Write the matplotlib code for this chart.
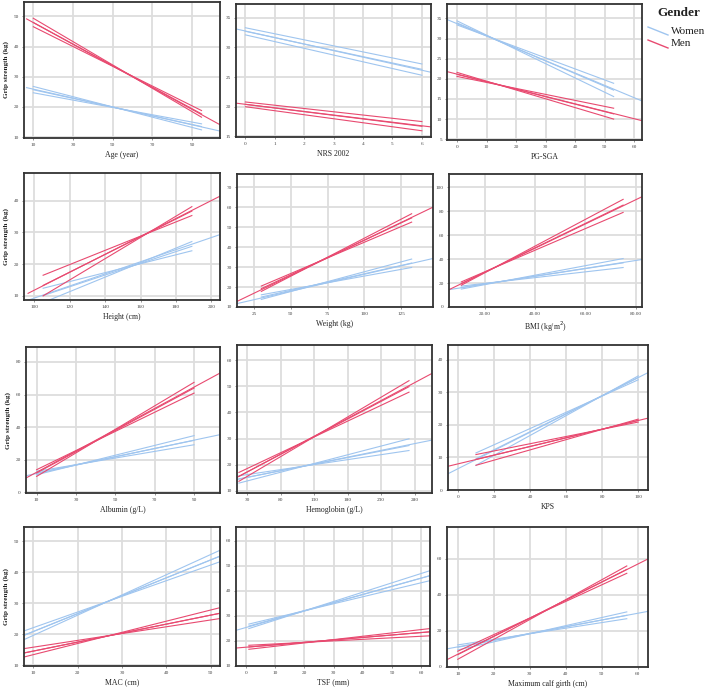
import matplotlib
matplotlib.use('Agg')
import matplotlib.pyplot as plt
from matplotlib.lines import Line2D

plt.rcParams['font.family'] = ['Liberation Serif', 'DejaVu Serif']

# ---- data ----
xlabels = ['Age (year)', 'NRS 2002', 'PG-SGA',
           'Height (cm)', 'Weight (kg)', 'BMI (kg/m$^2$)',
           'Albumin (g/L)', 'Hemoglobin (g/L)', 'KPS',
           'MAC (cm)', 'TSF (mm)', 'Maximum calf girth (cm)']

xlims = [(5.3, 104), (-0.32, 6.31), (-3.4, 62.6),
         (94.2, 204.9), (13.5, 146.5), (5.8, 82.5),
         (4.6, 103.2), (15.1, 305.8), (-5.5, 105.4),
         (7.9, 52.1), (-3.4, 63.0), (7.0, 62.9)]
ylims = [(9.7, 54.8), (14.9, 37.3), (4.8, 38.6),
         (8.7, 48.7), (10, 76.6), (0, 111.2),
         (-0.4, 89.2), (9.1, 65.9), (0, 44.6),
         (9.8, 54.6), (9.9, 65.6), (-0.2, 77.8)]

xticks = [[10, 30, 50, 70, 90], [0, 1, 2, 3, 4, 5, 6], [0, 10, 20, 30, 40, 50, 60],
          [100, 120, 140, 160, 180, 200], [25, 50, 75, 100, 125], [20, 40, 60, 80],
          [10, 30, 50, 70, 90], [30, 80, 130, 180, 230, 280], [0, 20, 40, 60, 80, 100],
          [10, 20, 30, 40, 50], [0, 10, 20, 30, 40, 50, 60], [10, 20, 30, 40, 50, 60]]
yticks = [[10, 20, 30, 40, 50], [15, 20, 25, 30, 35], [5, 10, 15, 20, 25, 30, 35],
          [10, 20, 30, 40], [10, 20, 30, 40, 50, 60, 70], [0, 20, 40, 60, 80, 100],
          [0, 20, 40, 60, 80], [10, 20, 30, 40, 50, 60], [0, 10, 20, 30, 40],
          [10, 20, 30, 40, 50], [10, 20, 30, 40, 50, 60], [0, 20, 40, 60]]

# fit lines over the whole axis: (x0, y0, x1, y1)
women_fit = [(6.6, 26.4, 104, 12.0), (-0.32, 33.1, 6.31, 25.8), (-3.4, 34.75, 62.6, 14.5),
             (94.2, 8.2, 204.9, 29.3), (13.5, 11.7, 146.5, 34.3), (5.8, 14.5, 82.5, 39.7),
             (4.6, 10.2, 103.2, 35.4), (15.1, 14.3, 305.8, 29.4), (-5.5, 5.0, 105.4, 36.1),
             (7.9, 19.7, 52.1, 45.2), (-3.4, 24.2, 63.0, 46.1), (7.0, 9.9, 62.9, 30.8)]
men_fit = [(6.6, 49.2, 104, 14.1), (-0.32, 20.6, 6.31, 16.6), (-3.4, 21.8, 62.6, 9.6),
           (96.5, 10.8, 204.9, 41.4), (13.5, 12.8, 146.5, 60.0), (5.8, 14.5, 82.5, 92.2),
           (4.6, 8.8, 103.2, 73.2), (15.1, 15.1, 305.8, 55.0), (-5.5, 7.3, 105.4, 22.1),
           (7.9, 14.0, 52.1, 26.8), (-3.4, 17.1, 63.0, 23.6), (7.0, 3.9, 62.9, 60.0)]

# interval lines over the observed range
ci_x = [(10, 94.7), (0, 6), (0, 53),
        (105, 189), (30, 132), (10.7, 75),
        (10, 90), (18, 271.5), (10, 100),
        (7.9, 52.1), (1, 63.0), (10, 57)]
women_start = [[26.8, 25.7, 24.7], [33.3, 32.7, 32.1], [34.4, 33.9, 33.4],
               [12.4, 10.1, 7.9], [16.1, 15.0, 13.8], [17.5, 16.3, 15.0],
               [12.9, 11.9, 10.8], [15.7, 14.5, 12.9], [11.4, 9.6, 7.6],
               [21.1, 19.7, 18.3], [26.7, 25.9, 24.9], [12.1, 10.8, 9.3]]
women_end = [[12.4, 13.5, 14.4], [27.2, 26.3, 25.3], [15.6, 17.2, 18.9],
             [24.2, 25.6, 27.1], [29.8, 32.0, 34.0], [33.0, 36.9, 40.5],
             [29.2, 31.9, 34.8], [25.4, 27.3, 29.9], [33.9, 34.6, 35.1],
             [43.4, 45.2, 47.1], [44.1, 46.1, 48.1], [26.7, 28.6, 30.5]]
men_start = [[49.4, 48.0, 46.6], [20.8, 20.4, 20.0], [21.6, 21.1, 20.6],
             [16.5, 13.3, 10.0], [20.5, 19.2, 17.8], [21.0, 19.6, 18.2],
             [13.9, 11.9, 9.8], [17.0, 15.5, 13.6], [10.9, 9.4, 7.6],
             [15.4, 14.0, 12.7], [18.2, 17.5, 16.6], [8.6, 6.7, 4.1]]
men_end = [[16.6, 17.7, 18.8], [17.5, 16.7, 15.95], [10.0, 11.3, 12.7],
           [35.3, 36.7, 38.1], [52.5, 54.6, 56.7], [79.1, 85.2, 90.0],
           [60.9, 64.0, 67.5], [47.8, 49.9, 52.2], [20.9, 21.4, 21.8],
           [25.1, 26.8, 28.6], [22.0, 23.6, 24.9], [52.0, 54.2, 56.1]]

# panel boxes in pixels: left, top, right, bottom
boxes = [(24, 2, 220, 138), (236, 4, 431, 137), (447, 4, 642, 140),
         (24, 173, 220, 300), (237, 174, 433, 307), (449, 174, 642, 307),
         (26, 347, 220, 493), (237, 345, 432, 493), (448, 345, 648, 490),
         (24, 527, 220, 666), (236, 527, 430, 666), (447, 527, 648, 667)]

W, H = 709, 688
blue = '#9fc5ef'
red = '#e84a70'

fig = plt.figure(figsize=(W / 100, H / 100), dpi=100)

for i in range(12):
    l, t, r, b = boxes[i]
    ax = fig.add_axes([l / W, 1 - b / H, (r - l) / W, (b - t) / H])

    for fit, st, en, col in [(women_fit[i], women_start[i], women_end[i], blue),
                             (men_fit[i], men_start[i], men_end[i], red)]:
        ax.plot([fit[0], fit[2]], [fit[1], fit[3]], color=col, lw=0.8)
        for y0, y1 in zip(st, en):
            ax.plot(list(ci_x[i]), [y0, y1], color=col, lw=0.8)

    ax.set_xlim(xlims[i])
    ax.set_ylim(ylims[i])
    ax.set_xticks(xticks[i])
    ax.set_yticks(yticks[i])
    if i == 5:
        ax.set_xticklabels(['%.2f' % v for v in xticks[i]])
    ax.grid(True, color='#dddddd', lw=1.3)
    ax.set_axisbelow(True)
    ax.tick_params(labelsize=3.8, length=1.2, width=0.4, colors='#444444', pad=2.5)
    for s in ax.spines.values():
        s.set_color('#333333')
        s.set_linewidth(1.3)
    ax.set_xlabel(xlabels[i], fontsize=5.6, labelpad=2.5, color='#222222')
    if i % 3 == 0:
        ax.set_ylabel('Grip strength (kg)', fontsize=5.2, fontweight='bold',
                      labelpad=3, color='#222222')

# legend
fig.text(657 / W, 1 - 13 / H, 'Gender', fontsize=9.5, fontweight='bold',
         va='center', ha='left', color='#222222')
fig.add_artist(Line2D([648 / W, 668 / W], [1 - 27 / H, 1 - 35 / H],
                      color=blue, lw=1, transform=fig.transFigure))
fig.add_artist(Line2D([648 / W, 668 / W], [1 - 40 / H, 1 - 48 / H],
                      color=red, lw=1, transform=fig.transFigure))
fig.text(671 / W, 1 - 31 / H, 'Women', fontsize=8, va='center', ha='left', color='#222222')
fig.text(671 / W, 1 - 43 / H, 'Men', fontsize=8, va='center', ha='left', color='#222222')

fig.savefig('out.png', dpi=100)
